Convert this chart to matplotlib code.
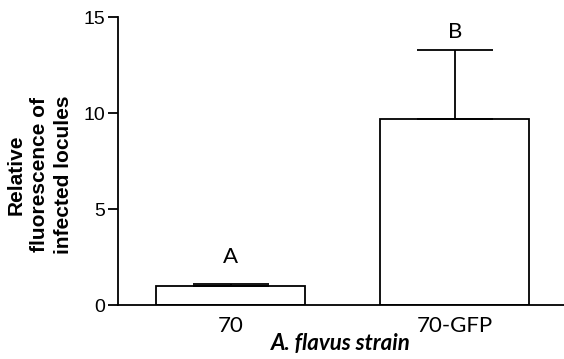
import matplotlib.pyplot as plt
import numpy as np

strains = ["70", "70-GFP"]
means = [1.0, 9.7]
errors = [0.08, 3.6]
letters = ["A", "B"]
letter_y = [2.2, 13.9]

fig = plt.figure(figsize=(5.64, 3.59), dpi=100)
ax = fig.add_axes([118 / 564, 1 - 305 / 359, (564 - 118) / 564, (305 - 17) / 359])

x = np.arange(len(strains))
ax.bar(x, means, width=0.665, color="white", edgecolor="black", linewidth=1.3, zorder=2)
ax.errorbar(x, means, yerr=[np.zeros(len(errors)), errors], fmt="none",
            ecolor="black", elinewidth=1.3, capsize=27.4, capthick=1.3, zorder=3)

for xi, ly, lab in zip(x, letter_y, letters):
    ax.text(xi, ly, lab, ha="center", va="baseline", fontsize=16, family="Lato")

ax.set_xlim(-0.504, 1.487)
ax.set_ylim(0, 15)
ax.set_yticks([0, 5, 10, 15])
ax.set_xticks(x)
ax.set_xticklabels(strains, fontsize=16, family="Lato")
ax.tick_params(axis="x", length=0, pad=8)
ax.tick_params(axis="y", length=7, width=1.3, labelsize=14, pad=2)
for lbl in ax.get_yticklabels():
    lbl.set_family("Liberation Sans")

for side in ["top", "right"]:
    ax.spines[side].set_visible(False)
ax.spines["left"].set_linewidth(1.3)
ax.spines["bottom"].set_linewidth(1.3)

ax.set_xlabel("A. flavus strain", fontsize=16, fontweight="bold", style="italic",
              family="Lato", labelpad=-2)
fig.text(40 / 564, 1 - 175 / 359, "Relative\nfluorescence of\ninfected locules",
         rotation=90, ha="center", va="center", multialignment="center",
         fontsize=15, fontweight="bold", family="Liberation Sans", linespacing=1.3)

fig.savefig("out.png", dpi=100)
